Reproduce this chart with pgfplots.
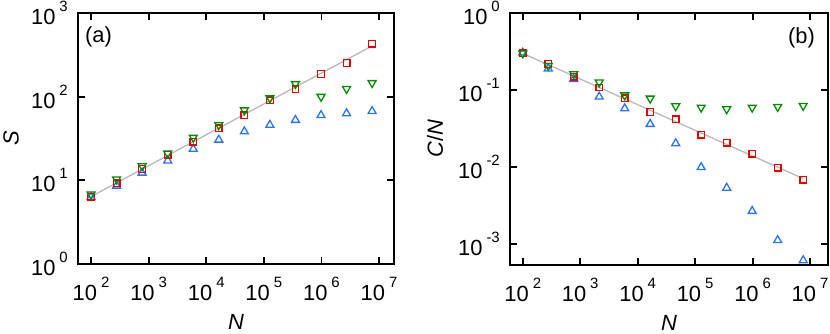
\documentclass[border=0pt]{standalone}
\usepackage{fontspec}
\setmainfont{Liberation Sans}
\usepackage{pgfplots}
\pgfplotsset{compat=1.18}
\definecolor{cred}{RGB}{230,0,0}
\definecolor{cgreen}{RGB}{0,140,0}
\definecolor{cblue}{RGB}{40,115,255}
\definecolor{cline}{RGB}{185,185,185}
\newcommand{\ex}[1]{\raisebox{13bp}{\fontsize{15}{15}\selectfont\hspace{4bp}#1}}

\pgfplotsset{
  panel/.style={
    scale only axis,
    axis line style={line width=1.8bp},
    every tick/.style={line width=1.8bp, black},
    major tick length=7bp,
    xminorticks=false, yminorticks=false,
    xtick pos=both, ytick pos=both, tick align=inside,
    xtick={1e2,1e3,1e4,1e5,1e6,1e7},
    xticklabels={10\ex{2},10\ex{3},10\ex{4},10\ex{5},10\ex{6},10\ex{7}},
    tick label style={font=\fontsize{22}{26}\selectfont},
    xticklabel style={anchor=north, inner sep=0pt, yshift=-13bp},
    yticklabel style={anchor=east, inner sep=0pt, xshift=-10bp},
    clip=false,
  },
  sq/.style={cred, only marks, mark=square, mark size=3.3bp, mark options={line width=1.3bp}},
  up/.style={cblue, only marks, mark=triangle, mark size=4.6bp, mark options={line width=1.3bp}},
  dn/.style={cgreen, only marks, mark=triangle, mark size=4.6bp, mark options={line width=1.3bp, rotate=180}},
}

\begin{document}
\begin{tikzpicture}
\begin{loglogaxis}[panel, at={(78bp,70bp)}, anchor=south west,
  width=316bp, height=251bp,
  xmin=59.4, xmax=1.82e7, ymin=1, ymax=1000,
  ytick={1,10,100,1000},
  yticklabels={10\ex{0},10\ex{1},10\ex{2},10\ex{3}}]
\addplot[cline, line width=1.3bp] coordinates {(100,6.4)(7.59e6,404)};
\addplot[up] coordinates {(100,6.3)(278,8.6)(771,12.3)(2143,17.2)(5957,23.7)(16520,30.5)
  (45920,38.3)(127400,45.9)(354000,52.5)(984000,60)(2730000,63)(7590000,67)};
\addplot[sq] coordinates {(100,6.4)(278,9.2)(771,13.7)(2143,20.3)(5957,29)(16520,42)
  (45920,60)(127400,90.5)(354000,122)(984000,187)(2730000,252)(7590000,430)};
\addplot[dn] coordinates {(100,6.8)(278,10.3)(771,14.8)(2143,21)(5957,32.5)(16520,45.8)
  (45920,69)(127400,96)(354000,142)(984000,100)(2730000,124)(7590000,146)};
\node[anchor=west, inner sep=0pt, font=\fontsize{22}{26}\selectfont] at ([xshift=7bp,yshift=-24bp]rel axis cs:0,1) {(a)};
\node[rotate=90, font=\fontsize{22}{26}\selectfont] at ([xshift=-67bp]rel axis cs:0,0.5) {\textit{S}};
\node[font=\fontsize{22}{26}\selectfont] at ([yshift=-58bp]rel axis cs:0.5,0) {\textit{N}};
\end{loglogaxis}

\begin{loglogaxis}[panel, at={(510bp,69bp)}, anchor=south west,
  width=318bp, height=252bp,
  xmin=60.1, xmax=2.05e7, ymin=5.4e-4, ymax=1,
  ytick={1e-3,1e-2,1e-1,1},
  yticklabels={10\ex{-3},10\ex{-2},10\ex{-1},10\ex{0}}]
\addplot[cline, line width=1.3bp] coordinates {(100,0.30)(7.59e6,0.00713)};
\addplot[up] coordinates {(100,0.305)(278,0.19)(771,0.139)(2143,0.082)(5957,0.0578)(16520,0.0363)
  (45920,0.0204)(127400,0.0100)(354000,0.0054)(984000,0.0027)(2730000,0.00113)(7590000,0.00062)};
\addplot[sq] coordinates {(100,0.30)(278,0.218)(771,0.149)(2143,0.108)(5957,0.078)(16520,0.052)
  (45920,0.042)(127400,0.0265)(354000,0.0209)(984000,0.015)(2730000,0.0099)(7590000,0.0069)};
\addplot[dn] coordinates {(100,0.30)(278,0.207)(771,0.162)(2143,0.126)(5957,0.086)(16520,0.078)
  (45920,0.062)(127400,0.0596)(354000,0.0567)(984000,0.0596)(2730000,0.0608)(7590000,0.0627)};
\node[anchor=east, inner sep=0pt, font=\fontsize{22}{26}\selectfont] at ([xshift=-13bp,yshift=-25bp]rel axis cs:1,1) {(b)};
\node[rotate=90, font=\fontsize{22}{26}\selectfont] at ([xshift=-75bp]rel axis cs:0,0.5) {\textit{C}/\textit{N}};
\node[font=\fontsize{22}{26}\selectfont] at ([yshift=-58bp]rel axis cs:0.5,0) {\textit{N}};
\end{loglogaxis}
\pgfresetboundingbox
\path[use as bounding box] (0,0) rectangle (830bp,334bp);
\end{tikzpicture}
\end{document}
